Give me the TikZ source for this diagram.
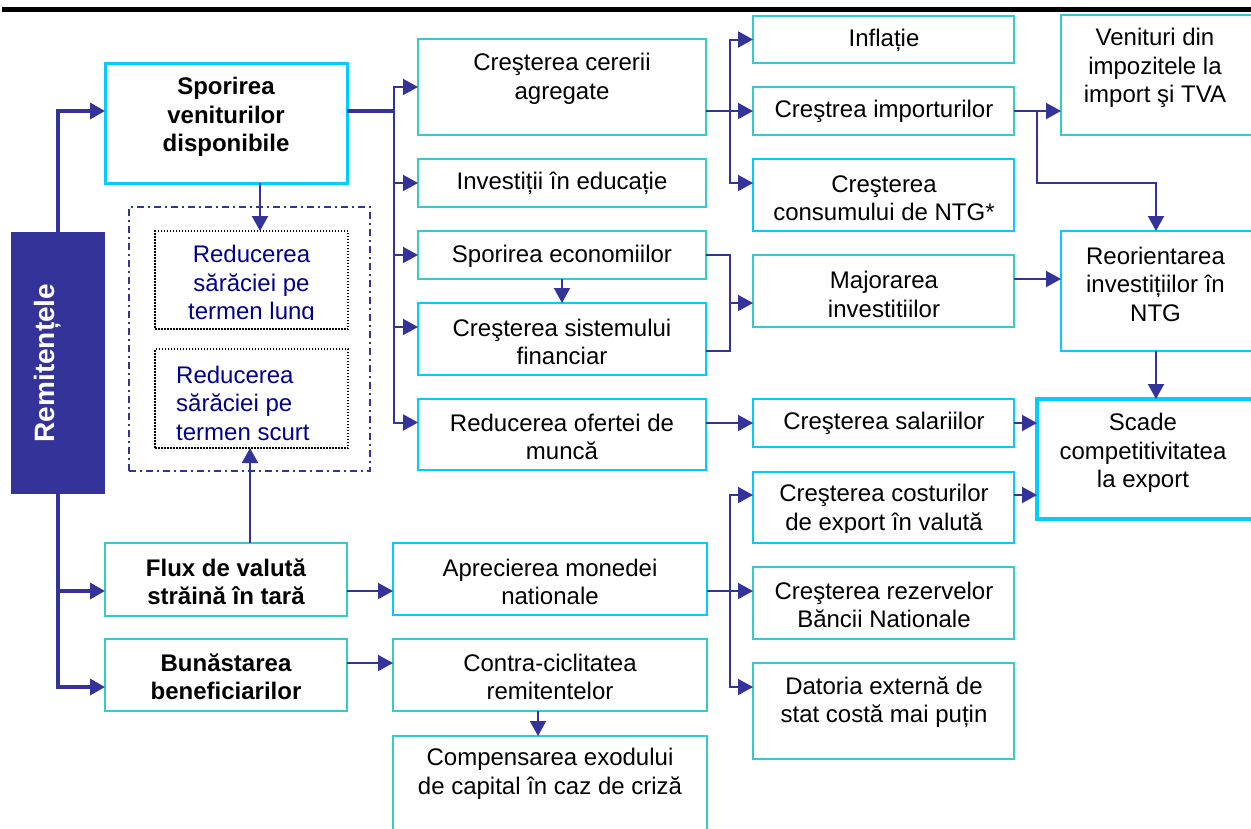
\documentclass[tikz,border=0pt]{standalone}
\usepackage{fontspec}
\setmainfont{Liberation Sans}
\usetikzlibrary{arrows.meta,calc}
\definecolor{navyc}{RGB}{51,51,153}
\definecolor{tealc}{RGB}{51,204,204}
\definecolor{cyanc}{RGB}{0,204,255}
\definecolor{txtnavy}{RGB}{0,0,140}
\newcommand\mkbox[6]{\node[#2, anchor=north west, minimum width={(#5)-(#3)}, minimum height={(#6)-(#4)}, inner sep=0pt, outer sep=0pt] (#1) at (#3,#4) {};}
\tikzset{
  tbox/.style={draw=tealc, line width=2pt},
  cbox/.style={draw=cyanc, line width=2pt},
  txt/.style={font=\fontsize{24}{28.5}\selectfont, align=center, inner sep=0pt},
  btxt/.style={font=\bfseries\fontsize{24}{28.5}\selectfont, align=center, inner sep=0pt},
  conn/.style={draw=navyc, line width=2pt, -{Triangle[length=15pt,width=16pt]}},
  lnk/.style={draw=navyc, line width=2pt},
  thk/.style={line width=3.5pt},
  dotbox/.style={draw=black, line width=1.5pt, dash pattern=on 1.5pt off 1.5pt},
  dashdotbox/.style={draw=navyc, line width=2pt, dash pattern=on 7pt off 4pt on 2pt off 4pt}
}
\begin{document}
\begin{tikzpicture}[x=1pt,y=-1pt]
\clip (0,0) rectangle (1251,828);
\fill[white] (0,0) rectangle (1251,828);
% title rule
\fill[black] (2,7) rectangle (1251,12);

% ---- boxes ----
\mkbox{remit}{fill=navyc}{11}{232}{105}{494}
\mkbox{spor}{draw=cyanc, line width=3pt}{105}{63}{347}{183}
\mkbox{flux}{tbox}{105}{543}{347}{616}
\mkbox{bunas}{tbox}{105}{639}{347}{711}
\mkbox{grp}{dashdotbox}{129}{207}{370}{471}
\mkbox{red1}{dotbox}{155}{231}{348}{329}
\mkbox{red2}{dotbox}{155}{349}{348}{448}
\mkbox{cerere}{tbox}{418}{39}{706}{135}
\mkbox{educ}{tbox}{418}{159}{706}{207}
\mkbox{econ}{tbox}{418}{231}{706}{279}
\mkbox{sistem}{cbox}{418}{303}{706}{375}
\mkbox{oferta}{cbox}{418}{399}{706}{470}
\mkbox{aprec}{cbox}{393}{543}{707}{615}
\mkbox{contra}{tbox}{393}{639}{707}{711}
\mkbox{comp}{tbox}{393}{736}{707}{850}
\mkbox{infl}{tbox}{753}{16}{1014}{63}
\mkbox{import}{tbox}{753}{87}{1014}{135}
\mkbox{consum}{cbox}{753}{159}{1014}{231}
\mkbox{major}{tbox}{753}{255}{1014}{327}
\mkbox{salar}{cbox}{753}{399}{1014}{447}
\mkbox{cost}{cbox}{753}{472}{1014}{543}
\mkbox{rezerv}{tbox}{753}{567}{1014}{639}
\mkbox{datoria}{tbox}{753}{663}{1014}{759}
\mkbox{venit}{tbox}{1061}{15}{1256}{135}
\mkbox{reor}{cbox}{1061}{231}{1256}{351}
\mkbox{scade}{draw=cyanc, line width=4.5pt}{1037}{399}{1260}{519}

% ---- texts ----
\node[btxt, rotate=90, text=white, font=\bfseries\fontsize{28}{30}\selectfont] (remit-t) at (48,363) {Remitențele};
\node[btxt] (spor-t) at (226,117) {Sporirea\\veniturilor\\disponibile};
\node[btxt] (flux-t) at (226,582) {Flux de valută\\străină în tară};
\node[btxt] (bunas-t) at (226,677) {Bunăstarea\\beneficiarilor};
\begin{scope}
\clip (155,231) rectangle (348,319);
\node[txt, text=txtnavy] (red1-t) at (251.5,285) {Reducerea\\sărăciei pe\\termen lung};
\end{scope}
\node[txt, text=txtnavy, align=left, anchor=west] (red2-t) at (176,403) {Reducerea\\sărăciei pe\\termen scurt};
\node[txt] (cerere-t) at (562,79) {Creşterea cererii\\agregate};
\node[txt] (educ-t) at (562,183) {Investiții în educație};
\node[txt] (econ-t) at (562,256) {Sporirea economiilor};
\node[txt] (sistem-t) at (562,342) {Creşterea sistemului\\financiar};
\node[txt] (oferta-t) at (562,437) {Reducerea ofertei de\\muncă};
\node[txt] (aprec-t) at (550,582) {Aprecierea monedei\\nationale};
\node[txt] (contra-t) at (550,677) {Contra-ciclitatea\\remitentelor};
\node[txt] (comp-t) at (550,774) {Compensarea exodului\\de capital în caz de criză};
\node[txt] (infl-t) at (884,40) {Inflație};
\node[txt] (import-t) at (884,111) {Creştrea importurilor};
\node[txt] (consum-t) at (884,198) {Creşterea\\consumului de NTG*};
\node[txt] (major-t) at (884,294.5) {Majorarea\\investitiilor};
\node[txt] (salar-t) at (884,423) {Creşterea salariilor};
\begin{scope}
\clip (753,472) rectangle (1014,532);
\node[txt] (cost-t) at (884,510) {Creşterea costurilor\\de export în valută};
\end{scope}
\node[txt] (rezerv-t) at (884,605) {Creşterea rezervelor\\Băncii Nationale};
\node[txt] (datoria-t) at (884,702) {Datoria externă de\\stat costă mai puțin};
\node[txt] (venit-t) at (1155,68) {Venituri din\\impozitele la\\import şi TVA};
\node[txt] (reor-t) at (1155.5,284) {Reorientarea\\investițiilor în\\NTG};
\node[txt] (scade-t) at (1143,453) {Scade\\competitivitatea\\la export};

% ---- connectors ----
\coordinate (b1) at (394,111);
\coordinate (b2) at (730,303);
\coordinate (b3) at (730,111);
\coordinate (b4) at (1037,111);
\coordinate (b5) at (730,591);
\coordinate (fluxin) at ([yshift=-11.5pt]flux.west);
\coordinate (sporbot) at ([xshift=34pt]spor.south);
\coordinate (fluxtop) at ([xshift=24pt]flux.north);
\coordinate (costout) at ([yshift=12.5pt]cost.east);
\coordinate (fluxout) at ([yshift=-11.5pt]flux.east);
\coordinate (bunasout) at ([yshift=12pt]bunas.east);
\coordinate (contrabot) at ([xshift=-12pt]contra.south);
\coordinate (reortop) at ([xshift=-2.5pt]reor.north);
\coordinate (reorbot) at ([xshift=-2.5pt]reor.south);

\draw[conn, thk] (remit.north) |- ([yshift=12pt]spor.west);
\draw[conn, thk] (remit.south) |- ([yshift=-12pt]bunas.west);
\draw[conn, thk] (remit.south |- fluxin) -- (fluxin);

\draw[lnk, thk] ([yshift=12pt]spor.east) -- (b1);
\draw[conn] (b1) |- (cerere.west);
\draw[conn] (b1) |- (educ.west);
\draw[conn] (b1) |- (econ.west);
\draw[conn] (b1) |- ([yshift=12pt]sistem.west);
\draw[conn] (b1) |- ([yshift=12pt]oferta.west);

\draw[conn] (sporbot) -- (sporbot |- red1.north);
\draw[conn] (fluxtop) -- (fluxtop |- red2.south);

\draw[conn] (econ.south) -- (sistem.north);
\draw[lnk] (econ.east) -| (b2) |- ([yshift=-12pt]sistem.east);
\draw[conn] (b2) -- (b2 -| major.west);

\draw[lnk] ([yshift=-24pt]cerere.east) -- (b3);
\draw[conn] (b3) |- (infl.west);
\draw[conn] (b3) -- (b3 -| import.west);
\draw[conn] (b3) |- ([yshift=12pt]consum.west);

\draw[conn] (import.east) -- (import.east -| venit.west);
\draw[conn] (b4) -- ++(0,72) -| (reortop);
\draw[conn] ([yshift=12pt]major.east) -- ([yshift=12pt]major.east -| reor.west);
\draw[conn] (reorbot) -- (reorbot |- scade.north);

\draw[conn] (salar.west -| oferta.east) -- (salar.west);
\draw[conn] (salar.east) -- (salar.east -| scade.west);
\draw[conn] (costout) -- (costout -| scade.west);

\draw[conn] (fluxout) -- (fluxout -| aprec.west);
\draw[conn] (bunasout) -- (bunasout -| contra.west);
\draw[conn] (contrabot) -- (contrabot |- comp.north);

\draw[lnk] ([yshift=-12pt]aprec.east) -- (b5);
\draw[conn] (b5) |- (costout -| cost.west);
\draw[conn] (b5) -- (b5 -| rezerv.west);
\draw[conn] (b5) |- ([yshift=24pt]datoria.west);
\end{tikzpicture}
\end{document}
